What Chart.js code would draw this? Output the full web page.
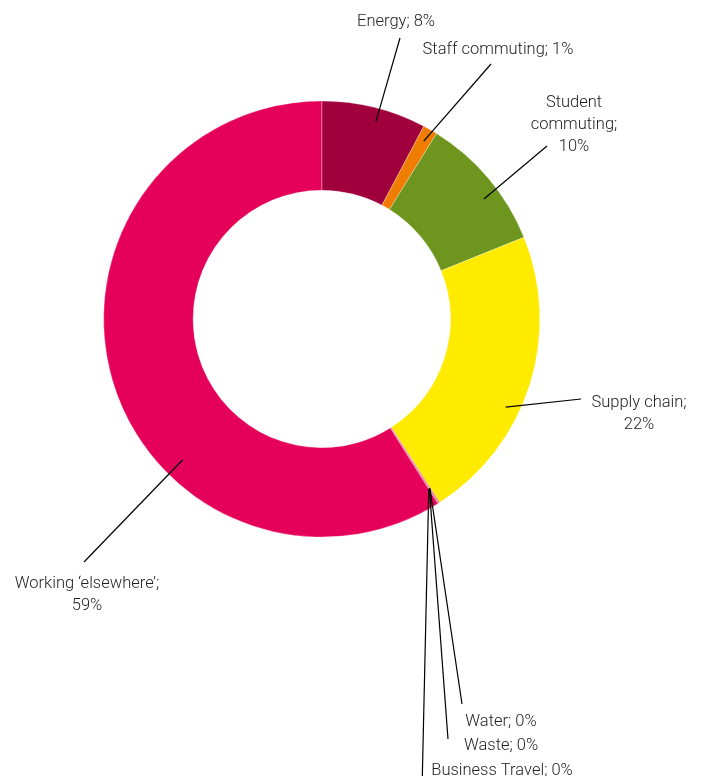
<!DOCTYPE html>
<html>
<head>
<meta charset="utf-8">
<script src="https://cdn.jsdelivr.net/npm/chart.js@4.4.1/dist/chart.umd.min.js"></script>
<style>
  html, body { margin: 0; padding: 0; background: #ffffff; }
  #wrap { width: 702px; height: 776px; }
</style>
</head>
<body>
<div id="wrap"><canvas id="c" width="702" height="776"></canvas></div>
<script>
// ---- Data ----
const categories = ['Energy', 'Staff commuting', 'Student commuting', 'Supply chain', 'Water', 'Waste', 'Business Travel', "Working \u2018elsewhere\u2019"];
const shares = [7.75, 1.07, 10.07, 22.03, 0.05, 0.05, 0.05, 58.93];
const sliceColors = ['#A0003C', '#F07D00', '#6E961E', '#FFEB00', '#D0005A', '#C4004F', '#B80048', '#E5005A'];

// label text lines: built from categories and rounded shares
function labelLines(i) {
  const pct = Math.round(shares[i]) + '%';
  switch (i) {
    case 2: return ['Student', 'commuting;', pct];
    case 3: return [categories[i] + ';', pct];
    case 7: return [categories[i] + ';', pct];
    default: return [categories[i] + '; ' + pct];
  }
}

// annotation layout (leader lines + text anchor)
const labelLayout = [
  { t: 0.55, rf: 0.94, end: [400, 38],  text: [396, 22] },
  { t: 0.5,  rf: 0.94, end: [491, 64],  text: [498, 50] },
  { t: 0.6,  rf: 0.925, end: [547, 146], text: [574, 103] },
  { t: 0.6,  rf: 0.935, end: [581, 399], text: [639, 403] },
  { t: 0.5,  rf: 0.92, end: [462, 704], text: [501, 722] },
  { t: 0.5,  rf: 0.92, end: [448, 739], text: [501, 746] },
  { t: 0.5,  rf: 0.92, end: [422, 790], text: [502, 771] },
  { t: 0.362, rf: 0.907, end: [84, 562], text: [87, 584] }
];

const leaderPlugin = {
  id: 'leaders',
  afterDatasetsDraw(chart) {
    const ctx = chart.ctx;
    const arcs = chart.getDatasetMeta(0).data;
    ctx.save();
    ctx.strokeStyle = '#000';
    ctx.lineWidth = 1.2;
    ctx.fillStyle = '#1e1e1e';
    ctx.font = '300 16.5px Roboto, "Liberation Sans", sans-serif';
    ctx.textAlign = 'center';
    ctx.textBaseline = 'middle';
    arcs.forEach((arc, i) => {
      const L = labelLayout[i];
      const p = arc.getProps(['x', 'y', 'startAngle', 'endAngle', 'outerRadius'], true);
      const a = p.startAngle + L.t * (p.endAngle - p.startAngle);
      const r = p.outerRadius * L.rf;
      const sx = p.x + r * Math.cos(a);
      const sy = p.y + r * Math.sin(a);
      ctx.beginPath();
      ctx.moveTo(sx, sy);
      ctx.lineTo(L.end[0], L.end[1]);
      ctx.stroke();
      const lines = labelLines(i);
      lines.forEach((ln, k) => {
        ctx.fillText(ln, L.text[0], L.text[1] + k * 22);
      });
    });
    ctx.restore();
  }
};

new Chart(document.getElementById('c'), {
  type: 'doughnut',
  data: {
    labels: categories,
    datasets: [{
      data: shares,
      backgroundColor: sliceColors,
      borderColor: '#ffffff',
      borderWidth: 0.3,
      hoverOffset: 0
    }]
  },
  options: {
    responsive: false,
    animation: false,
    cutout: '59%',
    layout: { padding: { left: 103.5, right: 162, top: 100.7, bottom: 238.7 } },
    plugins: {
      legend: { display: false },
      tooltip: { enabled: false }
    },
    events: []
  },
  plugins: [leaderPlugin]
});
</script>
</body>
</html>
